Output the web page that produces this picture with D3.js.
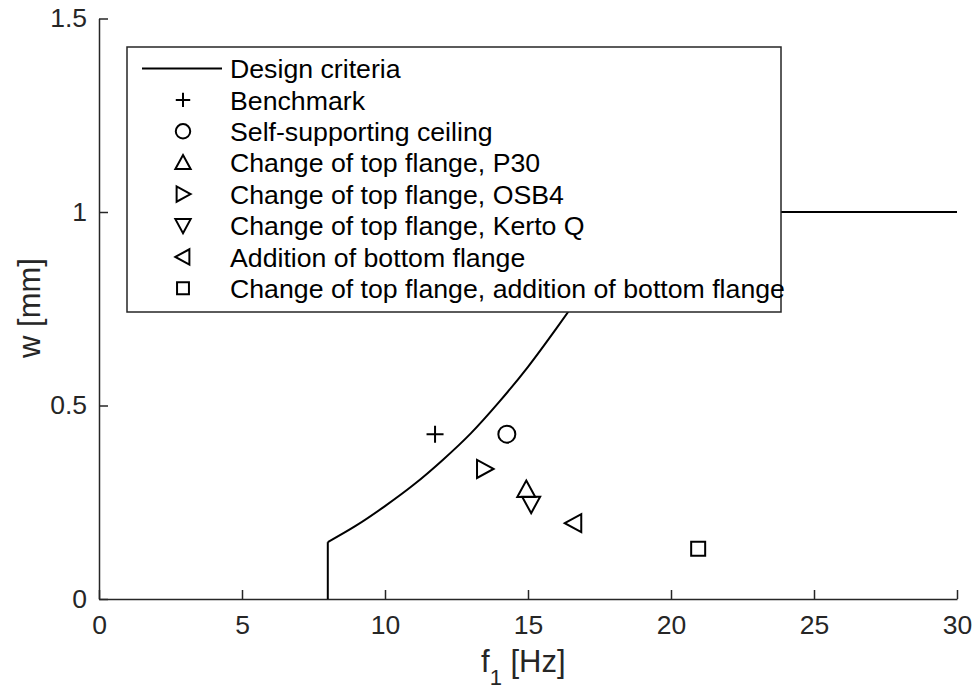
<!DOCTYPE html>
<html>
<head>
<meta charset="utf-8">
<script src="https://cdn.jsdelivr.net/npm/d3@7"></script>
<style>
  html, body { margin: 0; padding: 0; background: #fff; }
  svg { display: block; font-family: "Liberation Sans", Arial, Helvetica, sans-serif; }
</style>
</head>
<body>
<svg id="chart" width="977" height="697"></svg>
<script>
// Design criterion: limit deflection w [mm] against fundamental frequency f1 [Hz]
const criteriaF = [8, 8, 9, 10, 11, 12, 13, 14, 15, 16, 17, 18, 18.7, 30];
const criteriaW = [0, 0.147, 0.19, 0.24, 0.295, 0.358, 0.428, 0.51, 0.60, 0.70, 0.805, 0.915, 1, 1];

// Floor variants
const seriesNames = [
  "Benchmark",
  "Self-supporting ceiling",
  "Change of top flange, P30",
  "Change of top flange, OSB4",
  "Change of top flange, Kerto Q",
  "Addition of bottom flange",
  "Change of top flange, addition of bottom flange"
];
const seriesF = [11.75, 14.26, 14.94, 13.48, 15.11, 16.6, 20.95];
const seriesW = [0.426, 0.426, 0.283, 0.336, 0.245, 0.196, 0.130];
const markerTypes = ["plus", "circle", "triangleUp", "triangleRight", "triangleDown", "triangleLeft", "square"];

const criteriaLabel = "Design criteria";
const xTicks = [0, 5, 10, 15, 20, 25, 30];
const yTicks = [0, 0.5, 1, 1.5];
const yTickLabels = ["0", "0.5", "1", "1.5"];

const W = 977, H = 697;
const margin = { left: 99, right: 20, top: 18.5, bottom: 98 };
const ink = "#262626";

const svg = d3.select("#chart");
const x = d3.scaleLinear().domain([0, 30]).range([margin.left, W - margin.right]);
const y = d3.scaleLinear().domain([0, 1.5]).range([H - margin.bottom, margin.top]);

// Marker shapes, centred on the origin, scaled by k
function markerPath(type, k = 1) {
  const s = v => (v * k).toFixed(2);
  switch (type) {
    case "plus": return `M${s(-8.5)},0H${s(8.5)}M0,${s(-8.5)}V${s(8.5)}`;
    case "circle": return d3.arc()({ innerRadius: 0, outerRadius: 8.5 * k, startAngle: 0, endAngle: 2 * Math.PI });
    case "triangleUp": return `M0,${s(-9)}L${s(9)},${s(7.5)}L${s(-9)},${s(7.5)}Z`;
    case "triangleDown": return `M0,${s(9)}L${s(9)},${s(-7.5)}L${s(-9)},${s(-7.5)}Z`;
    case "triangleRight": return `M${s(9)},0L${s(-7.5)},${s(-9)}L${s(-7.5)},${s(9)}Z`;
    case "triangleLeft": return `M${s(-9)},0L${s(7.5)},${s(-9)}L${s(7.5)},${s(9)}Z`;
    case "square": return `M${s(-7)},${s(-7)}H${s(7)}V${s(7)}H${s(-7)}Z`;
  }
}

// Axes (left and bottom only, ticks pointing inward)
const xAxis = d3.axisBottom(x).tickValues(xTicks).tickFormat(d3.format("d"))
  .tickSizeInner(-9).tickSizeOuter(0).tickPadding(16);
const yAxis = d3.axisLeft(y).tickValues(yTicks).tickFormat((d, i) => yTickLabels[i])
  .tickSizeInner(-9).tickSizeOuter(0).tickPadding(12);

const gx = svg.append("g").attr("transform", `translate(0,${H - margin.bottom})`).call(xAxis);
const gy = svg.append("g").attr("transform", `translate(${margin.left},0)`).call(yAxis);
[gx, gy].forEach(g => {
  g.select(".domain").attr("stroke", ink).attr("stroke-width", 1.5);
  g.selectAll(".tick line").attr("stroke", ink).attr("stroke-width", 1.5);
  g.selectAll(".tick text").attr("fill", ink).attr("font-size", 26.5)
    .attr("font-family", "'Liberation Sans', Arial, sans-serif");
});

// Axis titles
const xTitle = svg.append("text")
  .attr("x", 481).attr("y", 672)
  .attr("fill", ink).attr("font-size", 31);
xTitle.append("tspan").text("f");
xTitle.append("tspan").attr("dy", 13).attr("font-size", 22).text("1");
xTitle.append("tspan").attr("dy", -13).text(" [Hz]");

svg.append("text")
  .attr("transform", "translate(40,308) rotate(-90)")
  .attr("text-anchor", "middle")
  .attr("fill", ink).attr("font-size", 31)
  .text("w [mm]");

// Design criteria line: vertical leg at the lower frequency bound, then the curved limit
const crit = criteriaF.map((f, i) => [f, criteriaW[i]]);
svg.append("path")
  .attr("d", d3.line().x(d => x(d[0])).y(d => y(d[1]))(crit.slice(0, 2)))
  .attr("fill", "none").attr("stroke", "#000").attr("stroke-width", 2);
svg.append("path")
  .attr("d", d3.line().x(d => x(d[0])).y(d => y(d[1])).curve(d3.curveMonotoneX)(crit.slice(1)))
  .attr("fill", "none").attr("stroke", "#000").attr("stroke-width", 2);

// Data markers
svg.append("g").selectAll("path")
  .data(seriesF.map((f, i) => ({ f, w: seriesW[i], type: markerTypes[i] })))
  .join("path")
  .attr("transform", d => `translate(${x(d.f)},${y(d.w)})`)
  .attr("d", d => markerPath(d.type))
  .attr("fill", "none").attr("stroke", "#000").attr("stroke-width", 2);

// Legend
const legend = svg.append("g");
legend.append("rect")
  .attr("x", 127).attr("y", 47).attr("width", 654).attr("height", 265)
  .attr("fill", "#fff").attr("stroke", ink).attr("stroke-width", 1.5);

const rowY = i => 68.5 + i * 31.4;
const legendItems = [{ label: criteriaLabel, type: "line" }]
  .concat(seriesNames.map((n, i) => ({ label: n, type: markerTypes[i] })));

legendItems.forEach((item, i) => {
  const cy = rowY(i);
  if (item.type === "line") {
    legend.append("line").attr("x1", 142).attr("x2", 222).attr("y1", cy).attr("y2", cy)
      .attr("stroke", "#000").attr("stroke-width", 2);
  } else {
    legend.append("path").attr("transform", `translate(183,${cy})`)
      .attr("d", markerPath(item.type, 0.85))
      .attr("fill", "none").attr("stroke", "#000").attr("stroke-width", 2);
  }
  legend.append("text").attr("x", 230).attr("y", cy).attr("dy", "0.36em")
    .attr("fill", "#000").attr("font-size", 26.7).text(item.label);
});
</script>
</body>
</html>
